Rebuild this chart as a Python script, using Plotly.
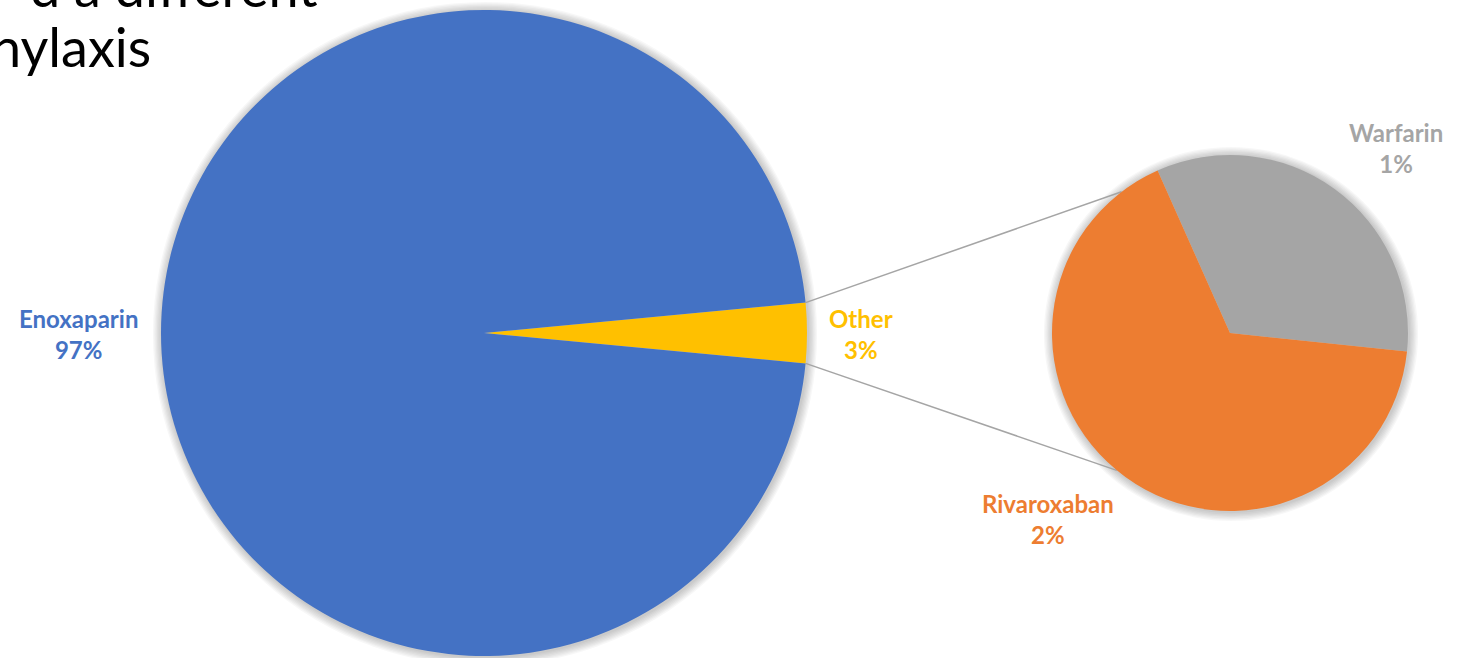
import math
import plotly.graph_objects as go

# ---- data ----
main_labels = ["Other", "Enoxaparin"]
main_values = [3, 97]
main_colors = ["#FFC000", "#4472C4"]

sub_labels = ["Warfarin", "Rivaroxaban"]
sub_values = [1, 2]
sub_colors = ["#A5A5A5", "#ED7D31"]

title_lines = ["d a different", "nylaxis"]

# ---- layout geometry (pixels) ----
W, H = 1464, 658
main_c, main_r = (484, 333), 323
sub_c, sub_r = (1230, 333), 178


def px(x, y):
    return x / W, 1 - y / H


def domain(c, r):
    return dict(x=[(c[0] - r) / W, (c[0] + r) / W], y=[1 - (c[1] + r) / H, 1 - (c[1] - r) / H])


other_share = main_values[0] / sum(main_values) * 360
main_rotation = 90 - other_share / 2

# second pie: first slice begins where it appears at upper-left
sub_rotation = -24

fig = go.Figure()
fig.add_trace(go.Pie(
    labels=main_labels, values=main_values, sort=False, direction="clockwise",
    rotation=main_rotation, marker=dict(colors=main_colors, line=dict(width=0)),
    textinfo="none", hoverinfo="label+percent", domain=domain(main_c, main_r), showlegend=False))
fig.add_trace(go.Pie(
    labels=sub_labels, values=sub_values, sort=False, direction="clockwise",
    rotation=sub_rotation, marker=dict(colors=sub_colors, line=dict(width=0)),
    textinfo="none", hoverinfo="label", domain=domain(sub_c, sub_r), showlegend=False))

shapes = []
# soft shadow halos
for c, r in [(main_c, main_r), (sub_c, sub_r)]:
    for k in range(1, 8):
        rr = r + k * 1.3
        x0, y0 = px(c[0] - rr + 1, c[1] + rr + 1)
        x1, y1 = px(c[0] + rr + 1, c[1] - rr + 1)
        shapes.append(dict(type="circle", xref="paper", yref="paper", x0=x0, y0=y0, x1=x1, y1=y1,
                           fillcolor="rgba(0,0,0,0.03)", line=dict(width=0), layer="below"))

# connector lines between the "Other" slice and the second pie
a1 = math.radians(main_rotation)
a2 = math.radians(main_rotation + other_share)
p_top = (main_c[0] + main_r * math.sin(a1), main_c[1] - main_r * math.cos(a1))
p_bot = (main_c[0] + main_r * math.sin(a2), main_c[1] - main_r * math.cos(a2))
b1, b2 = math.radians(-37.5), math.radians(219.5)
q_top = (sub_c[0] + sub_r * math.sin(b1), sub_c[1] - sub_r * math.cos(b1))
q_bot = (sub_c[0] + sub_r * math.sin(b2), sub_c[1] - sub_r * math.cos(b2))
for p, q in [(p_top, q_top), (p_bot, q_bot)]:
    x0, y0 = px(*p)
    x1, y1 = px(*q)
    shapes.append(dict(type="line", xref="paper", yref="paper", x0=x0, y0=y0, x1=x1, y1=y1,
                       line=dict(color="#A5A5A5", width=1.5), layer="below"))

annotations = []
label_pos = {"Enoxaparin": (78, 334), "Other": (861, 334), "Warfarin": (1396, 148), "Rivaroxaban": (1048, 519)}
all_labels = main_labels + sub_labels
all_vals = main_values + sub_values
all_cols = main_colors + sub_colors
for lab, v, col in zip(all_labels, all_vals, all_cols):
    x, y = px(*label_pos[lab])
    annotations.append(dict(x=x, y=y, xref="paper", yref="paper", showarrow=False,
                            xanchor="center", yanchor="middle",
                            text=f"<b>{lab}<br>{v}%</b>", align="center",
                            font=dict(family="Lato, Noto Sans", size=24, color=col)))

# partial slide title
annotations.append(dict(x=px(320, 0)[0], y=px(0, -14)[1], xref="paper", yref="paper", showarrow=False,
                        xanchor="right", yanchor="middle", text=title_lines[0],
                        font=dict(family="Lato, Noto Sans", size=54, color="#000000")))
annotations.append(dict(x=px(153, 0)[0], y=px(0, 47)[1], xref="paper", yref="paper", showarrow=False,
                        xanchor="right", yanchor="middle", text=title_lines[1],
                        font=dict(family="Lato, Noto Sans", size=54, color="#000000")))

fig.update_layout(width=W, height=H, margin=dict(l=0, r=0, t=0, b=0),
                  paper_bgcolor="white", plot_bgcolor="white",
                  shapes=shapes, annotations=annotations)

fig.write_html("out.html")
